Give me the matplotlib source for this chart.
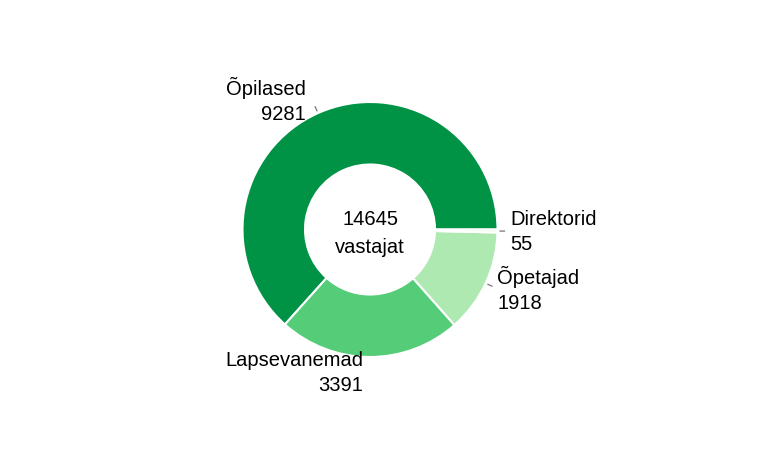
#!/usr/bin/env python3

import numpy as np
import matplotlib
matplotlib.use("Agg")
import matplotlib.pyplot as plt

# data
labels = ["Õpilased", "Lapsevanemad", "Õpetajad", "Direktorid"]
values = [9281, 3391, 1918, 55]
colors = ["#009345", "#55cd78", "#aee9b1", "#e6f7e8"]
center_label = "vastajat"

plt.rcParams['font.family'] = ['Liberation Sans', 'DejaVu Sans']

fig = plt.figure(figsize=(7.68, 4.64), dpi=100)
ax = fig.add_axes([0, 0, 1, 1])

cx, cy, r = 370, 233.5, 127.5
wedges, _ = ax.pie(
    values, colors=colors, startangle=0, counterclock=True,
    center=(cx, cy), radius=r, frame=True,
    wedgeprops=dict(width=r - 65, edgecolor='white', linewidth=1.5),
)
ax.set_xlim(0, 768)
ax.set_ylim(0, 464)
ax.set_aspect('equal')
ax.axis('off')

total = sum(values)
ax.text(cx, cy - 3, f"{total}\n{center_label}", ha='center', va='center',
        fontsize=14.5, linespacing=1.55)

for w, lab, val in zip(wedges, labels, values):
    mid = np.deg2rad((w.theta1 + w.theta2) / 2)
    ux, uy = np.cos(mid), np.sin(mid)
    if ux > 0.1:
        ha, k, shift = 'left', 1.1, 0
    else:
        ha, k, shift = 'right', 1.12, -6
    # short grey leader tick (hidden under the text straight below)
    if abs(ux) > 0.1:
        ax.plot([cx + ux * r * 1.02, cx + ux * r * 1.055],
                [cy + uy * r * 1.02, cy + uy * r * 1.055],
                color='#777777', lw=0.9)
    ax.text(cx + ux * r * k + shift, cy + uy * r * k, f"{lab}\n{val}",
            ha=ha, va='center', multialignment=ha, fontsize=14.5,
            linespacing=1.4)

fig.savefig("out.png", dpi=100)
